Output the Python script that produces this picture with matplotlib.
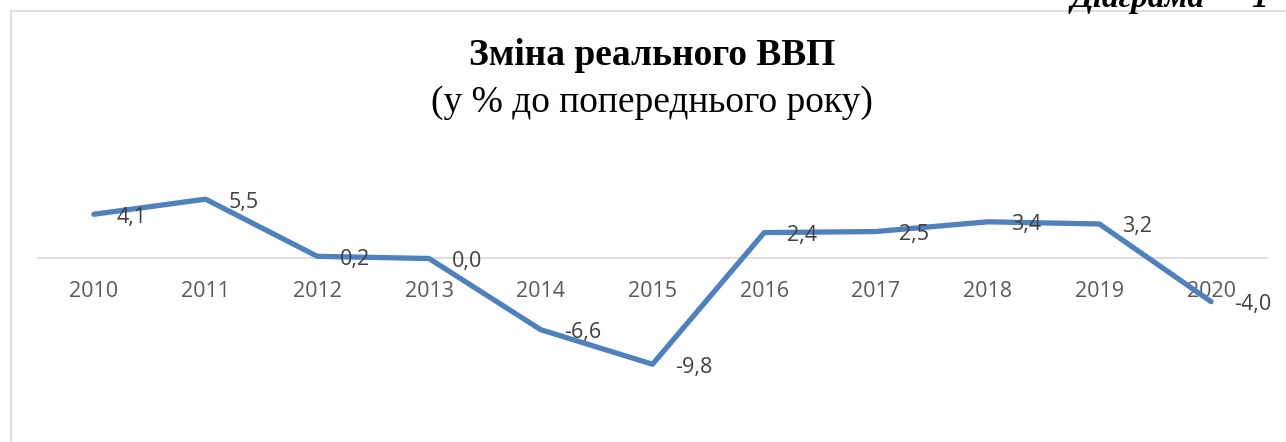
import matplotlib.pyplot as plt
from matplotlib.patches import Rectangle

years = ['2010', '2011', '2012', '2013', '2014', '2015', '2016', '2017', '2018', '2019', '2020']
gdp_change = [4.1, 5.5, 0.2, 0.0, -6.6, -9.8, 2.4, 2.5, 3.4, 3.2, -4.0]
value_labels = ['4,1', '5,5', '0,2', '0,0', '-6,6', '-9,8', '2,4', '2,5', '3,4', '3,2', '-4,0']

W, H = 1286, 442
fig = plt.figure(figsize=(W / 100, H / 100), dpi=100)

# chart frame (clipped by the page on the right and bottom)
fig.patches.append(Rectangle((10.5 / W, -0.1), 2.0, 1.1 - 11.5 / H,
                             transform=fig.transFigure, fill=False,
                             edgecolor='#d9d9d9', linewidth=1.2))

# caption above the chart, mostly cut off by the page edge
fig.text(1205 / W, 1 - 7 / H, 'Діаграма', family='Liberation Serif', weight='bold',
         style='italic', fontsize=24, ha='right', va='baseline')
fig.text(1268 / W, 1 - 7 / H, '1', family='Liberation Serif', weight='bold',
         style='italic', fontsize=24, ha='right', va='baseline')

fig.text(652 / W, 1 - 65 / H, 'Зміна реального ВВП', family='Liberation Serif',
         weight='bold', fontsize=27, ha='center', va='baseline')
fig.text(652 / W, 1 - 112 / H, '(у % до попереднього року)', family='Liberation Serif',
         fontsize=27, ha='center', va='baseline')

ax_top, ax_bot = 150, 420
ax = fig.add_axes([38 / W, 1 - ax_bot / H, (1267 - 38) / W, (ax_bot - ax_top) / H])
px_per_unit = 10.79
zero_y = 258.5
ax.set_ylim(-(ax_bot - zero_y) / px_per_unit, (zero_y - ax_top) / px_per_unit)
ax.set_xlim(-0.5, len(years) - 0.5)

x = list(range(len(years)))
ax.plot(x, gdp_change, color='#4f81bd', linewidth=3.8, solid_joinstyle='round',
        solid_capstyle='round', zorder=3)

for xi, v, lab in zip(x, gdp_change, value_labels):
    ax.annotate(lab, (xi, v), xytext=(23, -3), textcoords='offset pixels',
                ha='left', va='center', fontsize=15.5, family='Open Sans',
                color='#404040', zorder=4)

for s in ['top', 'right', 'left']:
    ax.spines[s].set_visible(False)
ax.spines['bottom'].set_position(('data', 0))
ax.spines['bottom'].set_color('#d9d9d9')
ax.spines['bottom'].set_linewidth(1.2)
ax.set_yticks([])
ax.set_xticks(x)
ax.set_xticklabels(years, family='Open Sans', fontsize=15.5, color='#595959')
ax.tick_params(axis='x', length=0, pad=16)
ax.patch.set_alpha(0)

plt.savefig('out.png', dpi=100)
